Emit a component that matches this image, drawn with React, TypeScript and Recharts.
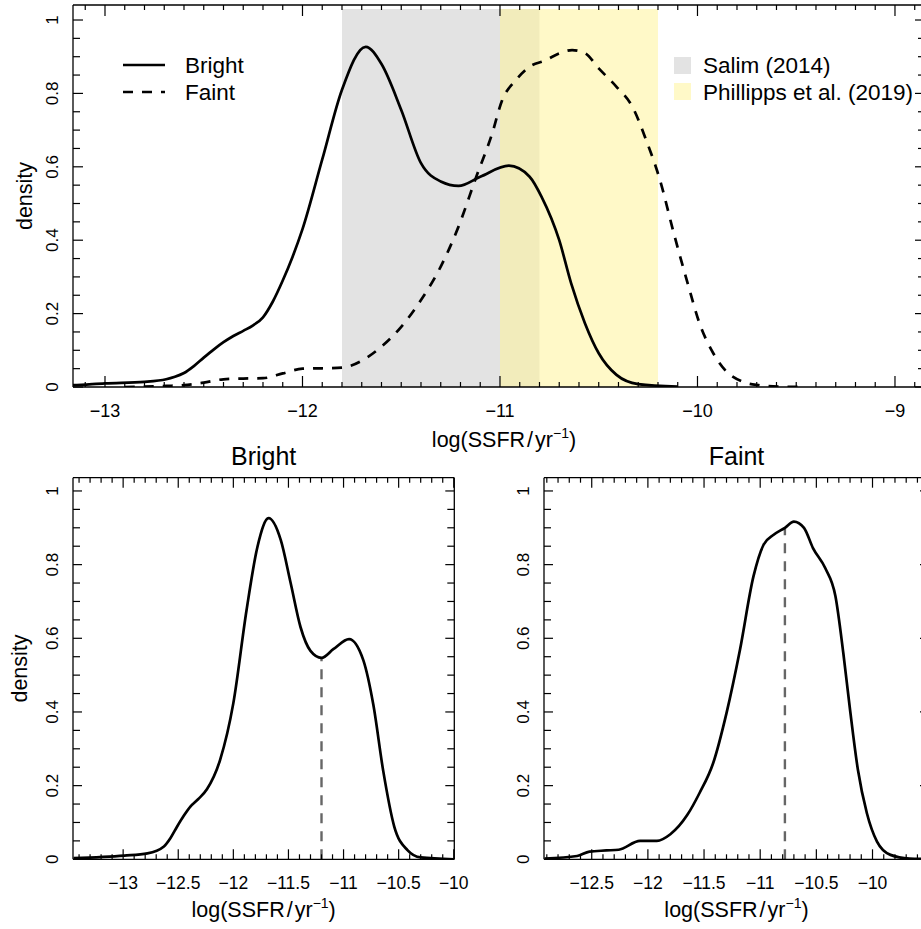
import React from 'react';
import {
  ComposedChart, Line, XAxis, YAxis, ReferenceArea, ReferenceLine, Customized,
} from 'recharts';

/* ── fonts / shared ── */
const FONT = '"Liberation Sans", Arial, Helvetica, sans-serif';
const MINUS = '\u2212';

/* ── data: top panel (both samples on one axis) ── */
const topBrightX = [-13.45, -13.16, -13.0, -12.8, -12.69, -12.65, -12.6, -12.55, -12.5, -12.45, -12.4, -12.35, -12.3,
  -12.25, -12.2, -12.15, -12.1, -12.05, -12.0, -11.9, -11.8, -11.68, -11.6, -11.5, -11.4, -11.3, -11.21, -11.1,
  -10.955, -10.85, -10.79, -10.7, -10.64, -10.57, -10.5, -10.41, -10.3, -10.1];
const topBrightY = [0.003, 0.005, 0.01, 0.014, 0.021, 0.027, 0.038, 0.057, 0.08, 0.102, 0.122, 0.139, 0.153,
  0.168, 0.19, 0.233, 0.29, 0.355, 0.43, 0.62, 0.81, 0.927, 0.88, 0.755, 0.61, 0.56, 0.548, 0.573,
  0.603, 0.573, 0.519, 0.40, 0.283, 0.174, 0.092, 0.033, 0.008, 0.001];

const topFaintX = [-12.9, -12.69, -12.6, -12.5, -12.4, -12.3, -12.2, -12.1, -12.0, -11.9, -11.8, -11.68, -11.6, -11.5,
  -11.4, -11.3, -11.21, -11.12, -11.04, -10.99, -10.92, -10.85, -10.77, -10.7, -10.635, -10.57, -10.5, -10.41, -10.33,
  -10.26, -10.19, -10.12, -10.05, -9.99, -9.92, -9.86, -9.77, -9.69, -9.58, -9.45];
const topFaintY = [0.0, 0.003, 0.005, 0.012, 0.021, 0.023, 0.024, 0.037, 0.05, 0.051, 0.053, 0.078, 0.11, 0.164,
  0.237, 0.328, 0.437, 0.573, 0.69, 0.78, 0.836, 0.873, 0.89, 0.909, 0.918, 0.91, 0.868, 0.818, 0.764,
  0.673, 0.564, 0.419, 0.283, 0.174, 0.092, 0.046, 0.014, 0.005, 0.001, 0.0];

/* ── data: lower panels ── */
const brightX = [-13.45, -12.99, -12.78, -12.63, -12.57, -12.51, -12.45, -12.39, -12.32, -12.24, -12.12, -12.0, -11.88,
  -11.78, -11.68, -11.57, -11.48, -11.39, -11.3, -11.2, -11.09, -10.95, -10.82, -10.73, -10.64, -10.54, -10.42, -10.3,
  -10.0];
const brightY = [0.003, 0.01, 0.016, 0.035, 0.058, 0.089, 0.118, 0.143, 0.163, 0.19, 0.27, 0.424, 0.677,
  0.85, 0.926, 0.867, 0.75, 0.63, 0.566, 0.547, 0.571, 0.598, 0.54, 0.42, 0.24, 0.089, 0.025, 0.005,
  0.0];
const brightSplit = -11.2;

const faintX = [-12.92, -12.63, -12.52, -12.37, -12.26, -12.07, -11.92, -11.8, -11.65, -11.54, -11.42, -11.3, -11.18,
  -11.06, -10.97, -10.88, -10.78, -10.7, -10.61, -10.53, -10.42, -10.33, -10.26, -10.2, -10.13, -10.05, -9.96, -9.84,
  -9.67, -9.55];
const faintY = [0.002, 0.009, 0.021, 0.024, 0.026, 0.05, 0.05, 0.068, 0.12, 0.18, 0.26, 0.397, 0.569,
  0.768, 0.854, 0.881, 0.90, 0.917, 0.90, 0.845, 0.79, 0.714, 0.56, 0.406, 0.243, 0.125, 0.048, 0.012,
  0.002, 0.001];
const faintSplit = -10.78;

/* ── literature ranges ── */
const salimRange = [-11.8, -10.8];
const phillippsRange = [-11.0, -10.2];

const seriesNames = ['Bright', 'Faint'];
const rangeNames = ['Salim (2014)', 'Phillipps et al. (2019)'];

/* ── ticks ── */
const topMajorX = [-13, -12, -11, -10, -9];
const lowMajorX = [-13, -12.5, -12, -11.5, -11, -10.5, -10];
const majorY = [0, 0.2, 0.4, 0.6, 0.8, 1];

const steps = (lo: number, hi: number, step: number) => {
  const out: number[] = [];
  for (let k = Math.ceil(lo / step - 1e-9); k * step <= hi + 1e-9; k++) out.push(Math.round(k * step * 100) / 100);
  return out;
};

const zip = (xs: number[], ys: number[]) => xs.map((x, i) => ({ x, y: ys[i] }));
const topBright = zip(topBrightX, topBrightY);
const topFaint = zip(topFaintX, topFaintY);
const bright = zip(brightX, brightY);
const faint = zip(faintX, faintY);

const fmt = (v: number) => (v < 0 ? MINUS + String(Math.abs(v)) : String(v));
const isIn = (v: number, list: number[]) => list.some((m) => Math.abs(m - v) < 1e-6);

const SHADE_GREY = '#E3E3E3';
const SHADE_YELLOW = '#FFF49A';
const LINE_W = 2.7;
const DASH = '10 9';

/* ── inward tick renderer ── */
type Side = 'bottom' | 'top' | 'left' | 'right';
function inwardTick(side: Side, majors: number[], majLen: number, minLen: number, label = false, fontSize = 15) {
  return (p: any) => {
    const v = p.payload.value;
    const maj = isIn(v, majors);
    const len = maj ? majLen : minLen;
    const { x, y } = p;
    let ln;
    if (side === 'bottom') ln = <line x1={x} x2={x} y1={y} y2={y - len} />;
    else if (side === 'top') ln = <line x1={x} x2={x} y1={y} y2={y + len} />;
    else if (side === 'left') ln = <line x1={x} x2={x + len} y1={y} y2={y} />;
    else ln = <line x1={x} x2={x - len} y1={y} y2={y} />;
    let txt = null;
    if (label && maj) {
      if (side === 'bottom') {
        txt = <text x={x} y={y + 30} textAnchor="middle" stroke="none" fill="#000" fontSize={fontSize}>{fmt(v)}</text>;
      } else if (side === 'left') {
        const tx = x - 15;
        txt = <text x={tx} y={y} transform={`rotate(-90 ${tx} ${y})`} textAnchor="middle" stroke="none" fill="#000" fontSize={fontSize}>{fmt(v)}</text>;
      }
    }
    return (
      <g stroke="#000" strokeWidth={1.2} fontFamily={FONT}>
        {ln}
        {txt}
      </g>
    );
  };
}

const ssfrTitle = (cx: number, y: number) => (
  <text x={cx} y={y} textAnchor="middle" fontFamily={FONT} fontSize={21.5} fill="#000">
    log(SSFR<tspan dx={2}>/</tspan><tspan dx={2}>yr</tspan>
    <tspan fontSize={14} dy={-9}>{MINUS}1</tspan><tspan dy={9}>)</tspan>
  </text>
);

const densityTitle = (x: number, cy: number) => (
  <text x={x} y={cy} transform={`rotate(-90 ${x} ${cy})`} textAnchor="middle" fontFamily={FONT} fontSize={21.5} fill="#000">
    density
  </text>
);

const axisLine = { stroke: '#000', strokeWidth: 1.3 };

/* ── top legend ── */
const TopLegend = () => (
  <g fontFamily={FONT} fontSize={22.5} fill="#000">
    <line x1={123} x2={165} y1={65} y2={65} stroke="#000" strokeWidth={LINE_W} />
    <text x={185} y={73}>{seriesNames[0]}</text>
    <line x1={123} x2={165} y1={92} y2={92} stroke="#000" strokeWidth={LINE_W} strokeDasharray={DASH} />
    <text x={185} y={100}>{seriesNames[1]}</text>
    <rect x={674} y={57} width={17} height={17} fill={SHADE_GREY} />
    <text x={703} y={73}>{rangeNames[0]}</text>
    <rect x={674} y={83} width={17} height={17} fill={SHADE_YELLOW} fillOpacity={0.54} />
    <text x={703} y={100}>{rangeNames[1]}</text>
  </g>
);

/* ── Top panel: both densities with literature ranges ── */
function TopPanel() {
  const xDom: [number, number] = [-13.162, -8.848];
  const yDom: [number, number] = [0, 1.0409];
  const xt = steps(xDom[0], xDom[1], 0.1);
  const yt = steps(0, 1, 0.05);
  return (
    <ComposedChart width={960} height={460} margin={{ top: 4, right: 34, bottom: 0, left: 0 }}>
      <XAxis type="number" dataKey="x" domain={xDom} allowDataOverflow ticks={xt} interval={0}
        tickSize={0} tickMargin={0} height={73} axisLine={axisLine} tickLine={false}
        tick={inwardTick('bottom', topMajorX, 11, 5, true, 18)}
        label={(p: any) => ssfrTitle(p.viewBox.x + p.viewBox.width / 2 + 5, p.viewBox.y + 59.7)} />
      <XAxis xAxisId="top" orientation="top" type="number" dataKey="x" domain={xDom} allowDataOverflow ticks={xt}
        interval={0} tickSize={0} tickMargin={0} height={1} axisLine={axisLine} tickLine={false}
        tick={inwardTick('top', topMajorX, 11, 5)} />
      <YAxis type="number" domain={yDom} allowDataOverflow ticks={yt} interval={0} tickSize={0} tickMargin={0}
        width={73} axisLine={axisLine} tickLine={false} tick={inwardTick('left', majorY, 10, 7, true, 17)}
        label={(p: any) => densityTitle(32, p.viewBox.y + p.viewBox.height / 2)} />
      <YAxis yAxisId="r" orientation="right" type="number" domain={yDom} allowDataOverflow ticks={yt} interval={0}
        tickSize={0} tickMargin={0} width={1} axisLine={axisLine} tickLine={false}
        tick={inwardTick('right', majorY, 10, 7)} />
      <ReferenceArea x1={salimRange[0]} x2={salimRange[1]} y1={0} y2={1.03} fill={SHADE_GREY} fillOpacity={1}
        stroke="none" ifOverflow="hidden" />
      <ReferenceArea x1={phillippsRange[0]} x2={phillippsRange[1]} y1={0} y2={1.03} fill={SHADE_YELLOW}
        fillOpacity={0.54} stroke="none" ifOverflow="hidden" />
      <Line data={topBright} dataKey="y" type="monotone" stroke="#000" strokeWidth={LINE_W} dot={false}
        activeDot={false} isAnimationActive={false} />
      <Line data={topFaint} dataKey="y" type="monotone" stroke="#000" strokeWidth={LINE_W} dot={false}
        strokeDasharray={DASH} activeDot={false} isAnimationActive={false} />
      <Customized component={TopLegend} />
    </ComposedChart>
  );
}

/* ── Lower panels: one sample each, with split marker ── */
interface LowerPanelProps {
  title: string;
  data: { x: number; y: number }[];
  split: number;
  xDom: [number, number];
  rightMargin: number;
  showDensity: boolean;
}
function LowerPanel({ title, data, split, xDom, rightMargin, showDensity }: LowerPanelProps) {
  const yDom: [number, number] = [0, 1.036];
  const xt = steps(xDom[0], xDom[1], 0.1);
  const yt = steps(0, 1, 0.05);
  const splitPt = data.find((d) => Math.abs(d.x - split) < 1e-9) || { x: split, y: 0 };
  return (
    <ComposedChart width={470} height={509} margin={{ top: 56.7, right: rightMargin, bottom: 0, left: 0 }}>
      <XAxis type="number" dataKey="x" domain={xDom} allowDataOverflow ticks={xt} interval={0}
        tickSize={0} tickMargin={0} height={69.7} axisLine={axisLine} tickLine={false}
        tick={inwardTick('bottom', lowMajorX, 10, 5, true, 17.5)}
        label={(p: any) => ssfrTitle(p.viewBox.x + p.viewBox.width / 2, p.viewBox.y + 57.7)} />
      <XAxis xAxisId="top" orientation="top" type="number" dataKey="x" domain={xDom} allowDataOverflow ticks={xt}
        interval={0} tickSize={0} tickMargin={0} height={1} axisLine={axisLine} tickLine={false}
        tick={inwardTick('top', lowMajorX, 10, 5)}
        label={(p: any) => (
          <text x={p.viewBox.x + p.viewBox.width / 2} y={p.viewBox.y + p.viewBox.height - 12.7} textAnchor="middle"
            fontFamily={FONT} fontSize={25} fill="#000">{title}</text>
        )} />
      <YAxis type="number" domain={yDom} allowDataOverflow ticks={yt} interval={0} tickSize={0} tickMargin={0}
        width={73} axisLine={axisLine} tickLine={false} tick={inwardTick('left', majorY, 9, 7, true, 17)}
        label={showDensity ? (p: any) => densityTitle(27, p.viewBox.y + p.viewBox.height / 2) : undefined} />
      <YAxis yAxisId="r" orientation="right" type="number" domain={yDom} allowDataOverflow ticks={yt} interval={0}
        tickSize={0} tickMargin={0} width={1} axisLine={axisLine} tickLine={false}
        tick={inwardTick('right', majorY, 9, 7)} />
      <ReferenceLine segment={[{ x: splitPt.x, y: 0 }, { x: splitPt.x, y: splitPt.y }]} stroke="#666"
        strokeWidth={2.4} strokeDasharray="10 8" />
      <Line data={data} dataKey="y" type="monotone" stroke="#000" strokeWidth={LINE_W} dot={false}
        activeDot={false} isAnimationActive={false} />
    </ComposedChart>
  );
}

export default function App() {
  return (
    <div style={{ position: 'absolute', left: 0, top: 0, width: 921, height: 929, overflow: 'hidden', background: '#fff' }}>
      <div style={{ position: 'absolute', left: 0, top: 0 }}>
        <TopPanel />
      </div>
      <div style={{ position: 'absolute', left: 0, top: 420 }}>
        <LowerPanel title={seriesNames[0]} data={bright} split={brightSplit} xDom={[-13.455, -9.995]}
          rightMargin={14.7} showDensity />
      </div>
      <div style={{ position: 'absolute', left: 471, top: 420 }}>
        <LowerPanel title={seriesNames[1]} data={faint} split={faintSplit} xDom={[-12.925, -9.497]}
          rightMargin={11} showDensity={false} />
      </div>
    </div>
  );
}
